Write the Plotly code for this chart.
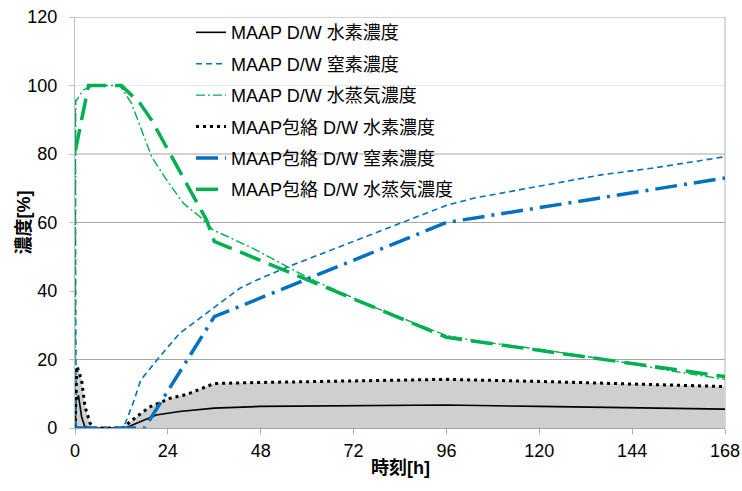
import plotly.graph_objects as go

# ---- data (hours, %) ----
t_maap_h2 = [0, 0.3, 0.9, 1.7, 2.5, 4, 13, 16, 21, 27, 36, 48, 72, 96, 120, 144, 168]
v_maap_h2 = [0, 8, 9.5, 3.3, 0.5, 0, 0, 1.4, 3.8, 4.8, 5.8, 6.3, 6.5, 6.7, 6.3, 5.9, 5.5]

t_maap_n2 = [0, 0.3, 12.5, 15, 17, 21.5, 27, 35, 42.6, 47, 54, 72, 86, 96, 103, 120, 136, 150, 168]
v_maap_n2 = [96, 0, 0, 7.2, 14, 20.3, 27.6, 34.5, 40.8, 43.2, 46.6, 54.5, 60.7, 65, 67.1, 70.5, 73.9, 76, 79.2]

t_maap_h2o = [0, 0.2, 2.1, 4.7, 11.6, 14.6, 17.2, 19.8, 23.7, 28, 32.3, 35.7, 45.2, 60, 77, 96, 105, 120, 139, 155, 168]
v_maap_h2o = [0, 95.3, 98.7, 100, 100, 94.8, 87, 79.2, 72.4, 65.6, 61.7, 57.8, 52.9, 44, 35.4, 27, 25.2, 23, 19.7, 16.5, 14.2]

t_env_h2 = [0, 0.5, 1.7, 2.6, 3.9, 5, 12.3, 15.9, 19.4, 24.6, 28.9, 36, 48, 72, 96, 120, 144, 168]
v_env_h2 = [0, 18, 14, 6.2, 1.4, 0, 0, 3.3, 6.2, 8.7, 9.8, 13, 13.3, 13.8, 14.2, 13.6, 12.9, 12.1]

t_env_n2 = [0, 18, 36, 96, 168]
v_env_n2 = [0, 0, 32.5, 60, 73]

t_env_h2o = [0.1, 3.5, 12, 16.8, 19.8, 24.6, 28.9, 34, 36, 96, 168]
v_env_h2o = [81, 100, 100, 94.8, 89.9, 80.2, 71.4, 60.7, 54.5, 26.5, 15]

names = [
    "MAAP D/W 水素濃度",
    "MAAP D/W 窒素濃度",
    "MAAP D/W 水蒸気濃度",
    "MAAP包絡 D/W 水素濃度",
    "MAAP包絡 D/W 窒素濃度",
    "MAAP包絡 D/W 水蒸気濃度",
]

x_title = "時刻[h]"
y_title = "濃度[%]"
x_ticks = [0, 24, 48, 72, 96, 120, 144, 168]
y_ticks = [0, 20, 40, 60, 80, 100, 120]
grid_dark = [20, 60, 80, 120]
grid_light = [100]

BLUE = "#0070C0"
GREEN = "#00B050"
FONT = "Liberation Sans, Noto Sans CJK JP, sans-serif"

fig = go.Figure()

# grey band under the envelope hydrogen curve
fig.add_trace(go.Scatter(x=t_env_h2, y=v_env_h2, mode="lines", fill="tozeroy",
                         fillcolor="#cfcfcf", line=dict(width=0), showlegend=False,
                         hoverinfo="skip"))

series = [
    (t_maap_h2, v_maap_h2, dict(color="black", width=1.6, dash="solid")),
    (t_maap_n2, v_maap_n2, dict(color=BLUE, width=1.6, dash="6px,4px")),
    (t_maap_h2o, v_maap_h2o, dict(color=GREEN, width=1.4, dash="9px,3px,2px,3px")),
    (t_env_h2, v_env_h2, dict(color="black", width=3, dash="3px,4px")),
    (t_env_n2, v_env_n2, dict(color=BLUE, width=3.5, dash="22px,7px,3px,7px")),
    (t_env_h2o, v_env_h2o, dict(color=GREEN, width=3.5, dash="22px,9px")),
]
for i, (tx, vy, ln) in enumerate(series):
    fig.add_trace(go.Scatter(x=tx, y=vy, mode="lines", name=names[i], line=ln,
                             legendgroup=f"g{i}"))

shapes = []
for g in grid_dark:
    shapes.append(dict(type="line", xref="paper", x0=0, x1=1, yref="y", y0=g, y1=g,
                       line=dict(color="#a6a6a6", width=1.2), layer="below"))
for g in grid_light:
    shapes.append(dict(type="line", xref="paper", x0=0, x1=1, yref="y", y0=g, y1=g,
                       line=dict(color="#e6e6e6", width=1.2), layer="below"))
shapes.append(dict(type="line", xref="paper", x0=1, x1=1, yref="paper", y0=0, y1=1,
                   line=dict(color="#bfbfbf", width=1.2), layer="below"))

annotations = [
    dict(text=f"<b>{x_title}</b>", xref="paper", yref="paper", x=0.5, y=-0.097,
         xanchor="center", yanchor="middle", showarrow=False,
         font=dict(family=FONT, size=18, color="black")),
    dict(text=f"<b>{y_title}</b>", xref="paper", yref="paper", x=-0.0785, y=0.5,
         xanchor="center", yanchor="middle", showarrow=False, textangle=-90,
         font=dict(family=FONT, size=18, color="black")),
]

fig.update_layout(
    width=742, height=491,
    margin=dict(l=75, r=17, t=17, b=63, autoexpand=False),
    paper_bgcolor="white", plot_bgcolor="white",
    font=dict(family=FONT, size=16, color="black"),
    shapes=shapes,
    annotations=annotations,
    legend=dict(x=0.1785, y=1.007, xanchor="left", yanchor="top",
                bgcolor="rgba(0,0,0,0)", traceorder="grouped", tracegroupgap=5,
                font=dict(family=FONT, size=18, color="black"), itemwidth=30),
    xaxis=dict(range=[0, 168], tickvals=x_ticks, showgrid=False, zeroline=False,
               showline=True, linecolor="#a6a6a6", linewidth=1.2, automargin=False,
               ticks="outside", ticklen=5, tickcolor="#a6a6a6",
               ticklabelstandoff=1, tickfont=dict(size=18)),
    yaxis=dict(range=[0, 120], tickvals=y_ticks, showgrid=False, zeroline=False,
               showline=True, linecolor="#bfbfbf", linewidth=1.2, automargin=False,
               ticks="outside", ticklen=5, tickcolor="#bfbfbf",
               ticklabelstandoff=8, tickfont=dict(size=18)),
)

fig.write_html("out.html", config={"displayModeBar": False},
               post_script="document.body.style.margin='0';document.body.style.overflow='hidden';")
